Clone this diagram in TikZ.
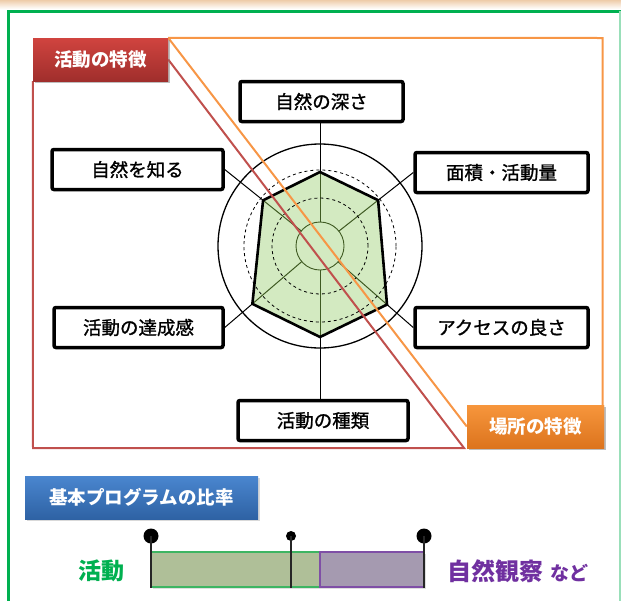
\documentclass[tikz,border=0pt]{standalone}
\usepackage{fontspec}
\setmainfont{Noto Sans CJK JP}
\newfontfamily\jpmed{Noto Sans CJK JP}[FakeBold=1.2]
\usetikzlibrary{calc, shadows}

\definecolor{frameGreen}{HTML}{00B050}
\definecolor{radarFill}{HTML}{D3EAC1}
\definecolor{radarLine}{HTML}{3F5A22}
\definecolor{redTop}{HTML}{D0443F}
\definecolor{redBot}{HTML}{A02E2C}
\definecolor{redLine}{HTML}{C0504D}
\definecolor{orTop}{HTML}{F7963C}
\definecolor{orBot}{HTML}{DC741E}
\definecolor{orLine}{HTML}{F79646}
\definecolor{blTop}{HTML}{4A86CF}
\definecolor{blBot}{HTML}{2E62A4}
\definecolor{barGreen}{HTML}{AFBF98}
\definecolor{barGreenLine}{HTML}{3DB562}
\definecolor{barPurple}{HTML}{A59AB0}
\definecolor{barPurpleLine}{HTML}{7F4FA6}
\definecolor{natPurple}{HTML}{7030A0}

\begin{document}
\begin{tikzpicture}[x=1pt, y=-1pt,
    axisbox/.style={draw, line width=3.5pt, rounded corners=2pt, fill=white,
      minimum height=40pt, inner sep=0pt, font=\jpmed\fontsize{18.5}{21}\selectfont},
    headbox/.style={text=white, minimum height=43pt, inner sep=0pt,
      font=\bfseries\fontsize{18.5}{21}\selectfont,
      drop shadow={opacity=0.3, shadow xshift=2pt, shadow yshift=-2pt}}]
    \useasboundingbox (0,0) rectangle (621,600);

    % frame
    \shade[top color=orange!35!brown!40, bottom color=white] (0,0) rectangle (621,9);
    \draw[frameGreen, line width=3pt] (621,11) -- (8,11) -- (8,601);
    \draw[frameGreen!40, line width=3pt] (620,11) -- (620,601);

    % axis boxes
    \node[axisbox, minimum width=163pt] (depth) at (321.5,101.5) {自然の深さ};
    \node[axisbox, minimum width=173pt] (area) at (501.5,172.5) {面積・活動量};
    \node[axisbox, minimum width=171pt] (know) at (137.5,169.5) {自然を知る};
    \node[axisbox, minimum width=169pt] (goal) at (138.5,327.5) {活動の達成感};
    \node[axisbox, minimum width=173pt] (access) at (501.5,327.5) {アクセスの良さ};
    \node[axisbox, minimum width=170pt] (kind) at (323,420.5) {活動の種類};

    % radar
    \coordinate (c) at (320,246);
    \coordinate (topEnd) at (c |- depth.south);
    \coordinate (botEnd) at (c |- kind.north);
    \draw[line width=1.3pt] (c) circle[radius=102pt];
    \foreach \e/\r [count=\i] in {topEnd/74, area.west/74, access.west/89,
        botEnd/91, goal.east/89, know.east/73} {
      \coordinate (v\i) at ($(c)!\r pt!(\e)$);
      \draw[line width=1pt] (v\i) -- (\e);
    }
    \fill[radarFill] (v1) -- (v2) -- (v3) -- (v4) -- (v5) -- (v6) -- cycle;
    \foreach \i in {1,...,6}
      \draw[radarLine, line width=1pt] (c) -- (v\i);
    \draw[dashed, line width=0.8pt] (c) circle[radius=48pt];
    \draw[dashed, line width=0.8pt] (c) circle[radius=76pt];
    \draw[line width=2.6pt, line join=miter] (v1) -- (v2) -- (v3) -- (v4) -- (v5) -- (v6) -- cycle;
    \draw[radarLine, fill=radarFill, line width=0.9pt] (c) circle[radius=24pt];

    % headings
    \node[headbox, minimum width=135pt, top color=redTop, bottom color=redBot] (actHead) at (100.5,59.5) {活動の特徴};
    \node[headbox, minimum width=137pt, top color=orTop, bottom color=orBot] (placeHead) at (535.5,426.5) {場所の特徴};
    \coordinate (redCorner) at (33,448);
    \coordinate (redTip) at (464,448);
    \coordinate (orCorner) at (602.5,38);
    \draw[redLine, line width=2pt, line join=miter] (actHead.south west) -- (redCorner) -- (redTip) -- (actHead.east);
    \draw[orLine, line width=2pt, line join=miter] (actHead.north east) -- (orCorner) -- ([xshift=-1.5pt]placeHead.north east);
    \draw[orLine, line width=2pt] (actHead.north east) -- (placeHead.west);
    \node[headbox, minimum width=135pt, top color=redTop, bottom color=redBot] at (actHead) {活動の特徴};
    \node[headbox, minimum width=137pt, top color=orTop, bottom color=orBot] at (placeHead) {場所の特徴};

    % ratio
    \node[headbox, minimum width=233pt, top color=blTop, bottom color=blBot] (ratioHead) at (141.5,497.5) {基本プログラムの比率};
    \node[draw=barGreenLine, fill=barGreen, line width=1.2pt, minimum width=169pt, minimum height=35pt,
      drop shadow={opacity=0.25, shadow xshift=2pt, shadow yshift=-2pt}] (actBar) at (235.5,569.5) {};
    \node[draw=barPurpleLine, fill=barPurple, line width=1.2pt, minimum width=104pt, minimum height=35pt,
      drop shadow={opacity=0.25, shadow xshift=2pt, shadow yshift=-2pt}] (natBar) at (372,569.5) {};
    \foreach \x/\s in {151/7.5, 291/5, 424/7.5} {
      \coordinate (pin) at (\x,536);
      \fill (pin) circle[radius=\s pt];
      \draw[line width=1.3pt, black!85] (pin) -- (pin |- actBar.south);
    }
    \node[text=frameGreen, font=\bfseries\fontsize{23}{26}\selectfont] (actText) at (101,571) {活動};
    \node[text=natPurple, font=\bfseries\fontsize{24}{27}\selectfont, anchor=west, inner sep=0pt] (natText) at (447,571)
      {自然観察\hspace{7pt}{\fontsize{19}{22}\selectfont など}};
\end{tikzpicture}
\end{document}
